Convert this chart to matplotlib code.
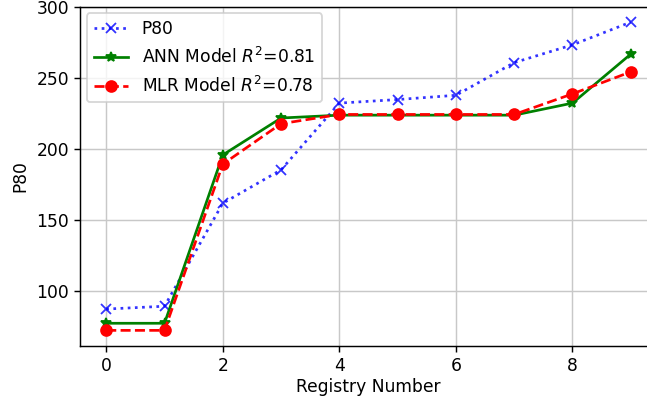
import numpy as np
import matplotlib
matplotlib.use('Agg')
import matplotlib.pyplot as plt

registry = np.arange(10)
p80 = [87, 89, 161.5, 185, 232, 234.5, 237.5, 260.5, 273, 289]
ann = [77, 77, 195.5, 221.5, 223.5, 223.5, 223.5, 223.5, 232, 266.5]
mlr = [72, 72, 189, 217.5, 224, 224, 224, 224, 238.5, 254]

dpi = 130
plt.rcParams['font.size'] = 9.5
fig = plt.figure(figsize=(647 / dpi, 397 / dpi), dpi=dpi)
# axes runs off the right edge, as in the cropped original
ax = fig.add_axes([80 / 647, 51 / 397, 577 / 647, 339.5 / 397])

ax.plot(registry, p80, 'bx:', label='P80', alpha=0.8)
ax.plot(registry, ann, 'g*-', label='ANN Model $R^2$=0.81')
ax.plot(registry, mlr, 'ro--', label='MLR Model $R^2$=0.78')

ax.set_ylim(61, 300)
ax.set_xlabel('Registry Number', labelpad=2)
ax.set_ylabel('P80')
ax.tick_params(pad=2.5)
ax.grid(True, color='#c8c8c8')
ax.legend(loc='upper left', borderaxespad=0.4)

fig.savefig('out.png', dpi=dpi)
